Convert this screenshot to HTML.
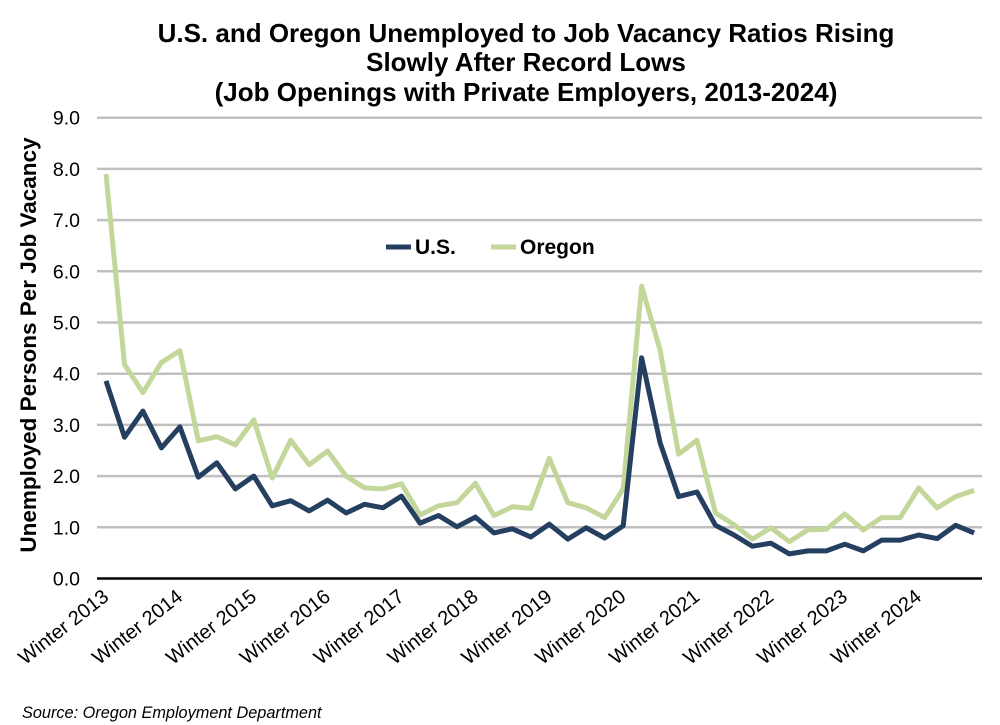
<!DOCTYPE html>
<html><head><meta charset="utf-8"><style>body{margin:0;background:#fff}svg{display:block}text{font-family:"Liberation Sans",Arial,sans-serif}</style></head>
<body>
<svg width="1000" height="725" viewBox="0 0 1000 725" xmlns="http://www.w3.org/2000/svg">
<g font-weight="bold" font-size="26" text-anchor="middle" fill="#000">
<text x="526" y="42">U.S. and Oregon Unemployed to Job Vacancy Ratios Rising</text>
<text x="526" y="71">Slowly After Record Lows</text>
<text x="526" y="101">(Job Openings with Private Employers, 2013-2024)</text>
</g>
<g id="grid" stroke="#c0c0c0" stroke-width="2.5"></g>
<line x1="97" y1="578.5" x2="982" y2="578.5" stroke="#000" stroke-width="2.5"/>
<g id="yl" font-size="19.5" text-anchor="end"></g>
<text transform="translate(36,345) rotate(-90)" font-size="22.5" font-weight="bold" text-anchor="middle">Unemployed Persons Per Job Vacancy</text>
<g id="xl" font-size="20" text-anchor="end"></g>
<polyline id="or" fill="none" stroke="#c4d79b" stroke-width="5" stroke-linejoin="round"/>
<polyline id="us" fill="none" stroke="#243f60" stroke-width="5" stroke-linejoin="round"/>
<line x1="386" y1="247" x2="411" y2="247" stroke="#243f60" stroke-width="5"/>
<text x="415" y="254" font-size="21" font-weight="bold">U.S.</text>
<line x1="491" y1="247" x2="516" y2="247" stroke="#c4d79b" stroke-width="5"/>
<text x="520" y="254" font-size="21" font-weight="bold">Oregon</text>
<text x="22" y="718" font-size="16.3" font-style="italic">Source: Oregon Employment Department</text>
</svg>
<script>
var us=[3.86,2.76,3.27,2.55,2.96,1.98,2.26,1.75,2.0,1.42,1.52,1.32,1.53,1.28,1.45,1.38,1.61,1.08,1.23,1.01,1.2,0.89,0.97,0.81,1.06,0.77,0.99,0.79,1.03,4.31,2.65,1.6,1.69,1.04,0.85,0.63,0.69,0.48,0.54,0.54,0.67,0.54,0.75,0.75,0.85,0.78,1.04,0.89];
var or=[7.9,4.18,3.63,4.22,4.45,2.69,2.77,2.61,3.1,1.96,2.7,2.22,2.49,2.0,1.77,1.75,1.85,1.24,1.42,1.48,1.86,1.23,1.4,1.37,2.35,1.48,1.38,1.19,1.75,5.71,4.46,2.43,2.7,1.28,1.05,0.77,0.99,0.72,0.95,0.96,1.26,0.95,1.19,1.19,1.77,1.38,1.6,1.72];
function X(i){return 106+i*18.47}function Y(v){return 578.5-v*51.2}
function pts(a){return a.map(function(v,i){return X(i).toFixed(1)+","+Y(v).toFixed(1)}).join(" ")}
document.getElementById("us").setAttribute("points",pts(us));
document.getElementById("or").setAttribute("points",pts(or));
var ns="http://www.w3.org/2000/svg",g=document.getElementById("grid"),yl=document.getElementById("yl"),xl=document.getElementById("xl");
for(var k=0;k<=9;k++){var y=Y(k);if(k>0){var l=document.createElementNS(ns,"line");l.setAttribute("x1",97);l.setAttribute("x2",982);l.setAttribute("y1",y);l.setAttribute("y2",y);g.appendChild(l);}
var t=document.createElementNS(ns,"text");t.setAttribute("x",80);t.setAttribute("y",y+7);t.textContent=k+".0";yl.appendChild(t);}
for(var j=0;j<12;j++){var x=X(j*4)+4;var t=document.createElementNS(ns,"text");t.setAttribute("transform","translate("+x+",599) rotate(-38)");t.textContent="Winter "+(2013+j);xl.appendChild(t);}
</script>
</body></html>
